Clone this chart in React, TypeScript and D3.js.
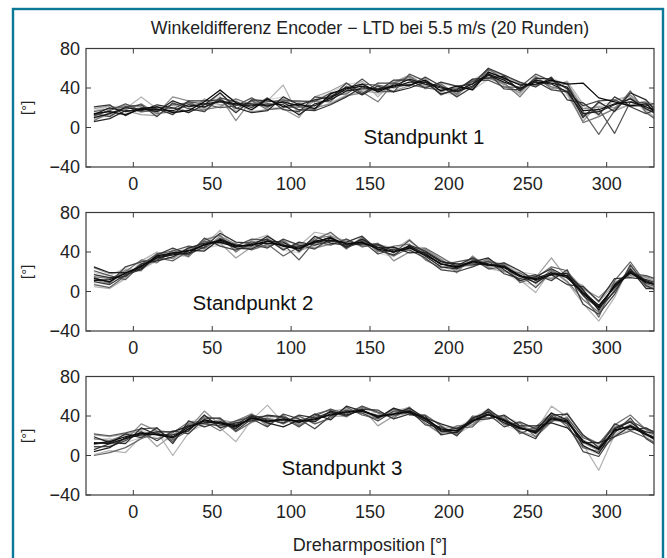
import * as d3 from "d3";

// Dreharmposition (deg) of each sample
const angles = [-25, -15, -5, 5, 15, 25, 35, 45, 55, 65, 75, 85, 95, 105, 115, 125, 135, 145, 155, 165, 175, 185, 195, 205, 215, 225, 235, 245, 255, 265, 275, 285, 295, 305, 315, 325, 335];

const xTicks = [0, 50, 100, 150, 200, 250, 300];
const yTicks = [-40, 0, 40, 80];

// Standpunkt 1 – 14 of the 20 runs
const runs1 = [
  [8, 12, 14, 22, 13, 21, 26, 18, 33, 28, 17, 28, 31, 15, 29, 35, 44, 46, 33, 47, 51, 49, 35, 33, 48, 58, 43, 35, 51, 41, 32, 8, 22, 27, 31, 15, 6],
  [17, 21, 22, 15, 20, 14, 18, 27, 22, 17, 27, 19, 21, 25, 19, 25, 33, 35, 43, 37, 43, 41, 45, 41, 38, 49, 51, 45, 43, 50, 43, 22, 12, 19, 23, 25, 17],
  [9, 13, 19, 31, 19, 23, 24, 19, 36, 16, 26, 27, 43, 12, 28, 33, 35, 47, 31, 46, 53, 39, 43, 32, 47, 57, 42, 33, 52, 41, 47, 24, 14, 28, 32, 17, 5],
  [19, 22, 17, 13, 12, 24, 15, 29, 23, 27, 16, 18, 19, 10, 31, 37, 45, 37, 35, 37, 42, 50, 36, 41, 39, 59, 52, 45, 42, 49, 34, 6, 25, 17, 23, 27, 19],
  [11, 18, 23, 21, 14, 31, 27, 16, 31, 7, 28, 20, 29, 17, 20, 24, 32, 35, 40, 44, 51, 41, 44, 33, 46, 50, 44, 35, 52, 39, 45, 19, 21, 20, 33, 18, 14],
  [7, 15, 18, 24, 14, 16, 17, 18, 21, 29, 23, 26, 28, 26, 27, 26, 42, 36, 26, 45, 52, 43, 44, 34, 47, 51, 45, 31, 49, 41, 37, 5, 11, 19, 30, 20, 17],
  [16, 19, 21, 16, 17, 23, 25, 20, 29, 19, 27, 18, 20, 21, 18, 32, 34, 44, 43, 40, 44, 40, 38, 40, 40, 59, 49, 44, 43, 47, 40, 16, -7, 17, 37, 15, 4],
  [12, 17, 24, 17, 21, 19, 26, 24, 20, 22, 30, 21, 27, 27, 26, 35, 37, 49, 37, 36, 54, 47, 33, 39, 47, 48, 41, 41, 54, 47, 45, 12, 19, -6, 26, 25, 16],
  [14, 11, 21, 23, 11, 25, 19, 16, 30, 26, 20, 30, 18, 16, 31, 29, 45, 34, 45, 45, 42, 51, 42, 31, 41, 55, 39, 38, 47, 38, 36, 22, 27, 28, 21, 14, 21],
  [21, 23, 12, 20, 19, 13, 27, 27, 28, 15, 28, 27, 25, 18, 17, 23, 31, 41, 37, 48, 48, 40, 46, 42, 44, 60, 53, 46, 41, 51, 28, 25, 13, 31, 22, 22, 27],
  [6, 9, 17, 17, 23, 20, 15, 23, 35, 20, 15, 17, 31, 23, 28, 31, 41, 33, 42, 36, 40, 46, 34, 38, 49, 50, 52, 37, 50, 49, 39, 10, 26, 16, 35, 28, 8],
  [13, 20, 16, 19, 16, 27, 21, 24, 26, 23, 22, 24, 23, 13, 24, 28, 37, 39, 39, 42, 49, 44, 40, 36, 42, 53, 46, 40, 46, 44, 36, 14, 16, 23, 29, 19, 11],
  [10, 14, 20, 18, 18, 17, 23, 21, 27, 24, 24, 22, 26, 22, 22, 30, 39, 42, 38, 41, 46, 46, 41, 37, 44, 54, 48, 39, 48, 45, 41, 17, 18, 24, 26, 21, 13],
  [14, 16, 13, 19, 21, 15, 17, 26, 38, 25, 18, 29, 21, 24, 19, 34, 40, 44, 36, 43, 43, 48, 37, 42, 38, 56, 50, 43, 44, 48, 44, 45, 30, 26, 22, 24, 9],
];

// Standpunkt 2
const runs2 = [
  [8, 4, 14, 29, 38, 43, 35, 53, 58, 41, 51, 55, 42, 39, 55, 59, 44, 55, 39, 35, 51, 33, 23, 19, 34, 24, 19, 10, 6, 23, 11, -8, -22, 1, 25, 6, 0],
  [19, 16, 24, 22, 31, 34, 44, 44, 47, 49, 43, 46, 51, 48, 45, 49, 52, 46, 48, 44, 41, 42, 33, 28, 27, 31, 28, 20, 17, 14, 19, 3, -9, 10, 16, 13, 9],
  [5, 3, 13, 31, 40, 36, 36, 47, 62, 42, 52, 57, 45, 46, 60, 57, 45, 53, 41, 42, 53, 36, 25, 21, 35, 23, 21, 12, -1, 22, 9, -12, -30, -6, 27, 7, 1],
  [24, 18, 21, 23, 32, 40, 43, 49, 49, 34, 45, 47, 49, 41, 47, 56, 51, 48, 47, 43, 43, 42, 31, 22, 32, 30, 27, 18, 14, 34, 13, 6, -11, 8, 18, 14, 7],
  [12, 8, 22, 21, 39, 33, 45, 43, 56, 48, 44, 54, 43, 49, 44, 48, 53, 45, 49, 31, 40, 43, 33, 19, 36, 24, 29, 11, 16, 13, 20, 3, -6, 9, 16, 15, 10],
  [15, 13, 20, 32, 29, 42, 35, 52, 57, 40, 51, 45, 52, 40, 54, 56, 43, 55, 40, 46, 48, 32, 24, 27, 26, 33, 20, 19, 8, 22, 10, -8, -21, 2, 24, 5, 0],
  [7, 4, 16, 24, 34, 31, 41, 51, 49, 48, 42, 48, 36, 45, 52, 60, 47, 52, 42, 36, 44, 44, 35, 25, 27, 30, 27, 9, 14, 25, 21, -3, -26, 11, 30, 8, 3],
  [21, 16, 12, 27, 38, 41, 46, 44, 54, 46, 53, 52, 48, 32, 51, 47, 53, 46, 47, 39, 52, 39, 27, 30, 33, 23, 25, 17, 4, 20, 16, 1, -15, 5, 18, 16, 11],
  [14, 9, 25, 30, 32, 39, 37, 54, 46, 42, 48, 44, 53, 47, 43, 54, 44, 51, 38, 43, 42, 34, 22, 20, 25, 31, 18, 13, 17, 11, 22, -13, -23, -3, 27, 6, -1],
  [10, 7, 17, 22, 37, 44, 38, 45, 59, 50, 49, 53, 42, 50, 47, 51, 50, 56, 42, 37, 47, 41, 31, 26, 34, 26, 29, 21, 11, 17, 7, 5, -10, 13, 14, 12, 7],
  [17, 14, 15, 28, 31, 35, 44, 49, 51, 44, 43, 51, 50, 41, 56, 49, 47, 48, 48, 41, 45, 36, 25, 23, 30, 34, 22, 11, 15, 23, 15, -4, -17, 0, 23, 3, 3],
  [25, 19, 19, 23, 35, 38, 42, 41, 53, 47, 46, 56, 46, 46, 49, 55, 45, 53, 44, 45, 39, 40, 30, 28, 28, 27, 26, 16, 9, 18, 18, 2, -19, 7, 21, 11, 5],
  [11, 12, 18, 26, 34, 37, 39, 48, 50, 45, 48, 49, 47, 44, 50, 52, 49, 49, 45, 40, 46, 38, 28, 24, 31, 28, 24, 15, 13, 19, 14, -1, -14, 4, 20, 10, 4],
  [13, 10, 19, 25, 36, 39, 41, 47, 52, 46, 47, 51, 46, 43, 51, 54, 48, 50, 43, 40, 44, 37, 28, 25, 30, 27, 25, 16, 12, 17, 16, -2, -16, 6, 19, 9, 6],
];

// Standpunkt 3
const runs3 = [
  [8, 10, 20, 26, 18, 15, 33, 40, 29, 33, 43, 31, 40, 32, 41, 47, 41, 50, 36, 46, 48, 32, 21, 28, 38, 47, 31, 24, 20, 43, 31, 8, 1, 28, 35, 18, 11],
  [16, 17, 13, 18, 27, 22, 24, 31, 35, 25, 33, 40, 32, 39, 32, 37, 48, 41, 44, 37, 42, 41, 31, 21, 31, 38, 39, 33, 28, 34, 39, 19, 10, 21, 26, 27, 20],
  [1, 5, 3, 19, 24, 0, 23, 37, 28, 14, 36, 51, 33, 39, 35, 45, 47, 43, 38, 44, 49, 35, 28, 29, 33, 39, 33, 30, 25, 50, 39, 11, -15, 21, 32, 20, 13],
  [21, 19, 22, 25, 9, 21, 31, 33, 36, 33, 41, 32, 40, 31, 39, 40, 40, 48, 30, 40, 43, 41, 24, 22, 39, 44, 38, 25, 19, 36, 33, 16, 7, 30, 27, 24, 17],
  [11, 14, 16, 32, 25, 17, 27, 45, 31, 28, 37, 37, 35, 36, 37, 43, 45, 44, 41, 43, 46, 36, 27, 26, 34, 41, 36, 29, 26, 39, 36, 13, 5, 24, 31, 21, 16],
  [17, 15, 21, 20, 17, 23, 34, 34, 25, 35, 42, 30, 41, 30, 42, 46, 39, 49, 43, 38, 49, 33, 22, 30, 31, 46, 31, 33, 19, 34, 43, 20, 12, 31, 41, 26, 20],
  [0, 3, 8, 17, 23, 16, 25, 39, 37, 24, 34, 38, 32, 40, 32, 38, 49, 41, 37, 47, 41, 41, 30, 20, 40, 38, 40, 22, 29, 43, 29, 8, 4, 19, 25, 18, 9],
  [22, 20, 23, 27, 28, 14, 32, 32, 30, 35, 39, 40, 38, 29, 40, 47, 42, 50, 44, 40, 46, 36, 24, 28, 29, 45, 37, 29, 22, 35, 38, 18, 12, 28, 35, 27, 22],
  [9, 9, 15, 24, 15, 25, 22, 37, 38, 25, 37, 29, 42, 37, 27, 40, 46, 43, 35, 45, 46, 31, 29, 20, 37, 42, 29, 34, 27, 40, 32, 4, -1, 23, 38, 17, 7],
  [6, 12, 22, 18, 28, 12, 35, 29, 34, 31, 41, 36, 33, 41, 38, 44, 40, 47, 46, 37, 42, 40, 21, 24, 34, 47, 35, 24, 17, 41, 42, 21, 8, 32, 26, 28, 19],
  [19, 13, 12, 28, 21, 21, 25, 41, 28, 33, 35, 41, 39, 33, 42, 36, 50, 45, 40, 42, 48, 38, 32, 27, 36, 37, 41, 30, 30, 33, 28, 13, 13, 19, 30, 24, 21],
  [4, 8, 18, 22, 24, 24, 30, 33, 34, 27, 40, 33, 29, 36, 34, 45, 41, 46, 38, 48, 43, 35, 25, 23, 38, 44, 33, 27, 25, 43, 36, 10, 2, 27, 34, 22, 11],
  [13, 12, 17, 21, 22, 19, 29, 35, 32, 29, 38, 35, 36, 35, 36, 42, 44, 45, 40, 42, 45, 38, 26, 25, 35, 42, 35, 28, 24, 38, 35, 15, 6, 25, 30, 22, 15],
  [12, 14, 19, 23, 21, 18, 27, 36, 33, 30, 38, 34, 37, 34, 37, 41, 44, 46, 39, 42, 44, 37, 27, 25, 35, 41, 36, 28, 23, 37, 34, 14, 7, 26, 29, 21, 14],
];

const runColors = ["#d8d8d8", "#c8c8c8", "#b4b4b4", "#a0a0a0", "#8c8c8c", "#787878", "#666666", "#545454", "#444444", "#363636", "#2a2a2a", "#1e1e1e", "#141414", "#0a0a0a"];

const panels = [
  { runs: runs1, label: "Standpunkt 1", lx: 424, ly: 144 },
  { runs: runs2, label: "Standpunkt 2", lx: 253, ly: 310 },
  { runs: runs3, label: "Standpunkt 3", lx: 342, ly: 475 },
];

const W = 667;
const H = 558;
const left = 86;
const right = 654;
const panelTops = [48.5, 212.5, 376.5];
const panelH = 118.5;
const font = "'Liberation Sans', Arial, sans-serif";
const axisColor = "#3a3a3a";

export default function App() {
  const x = d3.scaleLinear([-30, 330], [left, right]);

  return (
    <svg width={W} height={H} style={{ position: "absolute", left: 0, top: 0, background: "#fff" }} fontFamily={font}>
      <defs>
        {panelTops.map((t, i) => (
          <clipPath key={i} id={`clip${i}`}>
            <rect x={left} y={t} width={right - left} height={panelH} />
          </clipPath>
        ))}
      </defs>
      {/* outer frame */}
      <rect x={13} y={9} width={650} height={570} fill="none" stroke="#0a7896" strokeWidth={2.4} />

      <text x={(left + right) / 2} y={34} textAnchor="middle" fontSize={17.7} fill="#222">
        Winkeldifferenz Encoder − LTD bei 5.5 m/s (20 Runden)
      </text>

      {panels.map((p, pi) => {
        const top = panelTops[pi];
        const bottom = top + panelH;
        const y = d3.scaleLinear([-40, 80], [bottom, top]);
        const line = d3.line<number>((_, i) => x(angles[i]), (d) => y(d));
        return (
          <g key={pi}>
            <g clipPath={`url(#clip${pi})`} fill="none" strokeWidth={1.25} strokeLinejoin="round">
              {p.runs.map((r, ri) => (
                <path key={ri} d={line(r) ?? ""} stroke={runColors[ri % runColors.length]} />
              ))}
            </g>
            <rect x={left} y={top} width={right - left} height={panelH} fill="none" stroke={axisColor} strokeWidth={1.2} />
            {xTicks.map((t) => (
              <g key={t} stroke={axisColor} strokeWidth={1}>
                <line x1={x(t)} x2={x(t)} y1={top} y2={top + 5} />
                <line x1={x(t)} x2={x(t)} y1={bottom} y2={bottom - 5} />
              </g>
            ))}
            {yTicks.map((t) => (
              <g key={t} stroke={axisColor} strokeWidth={1}>
                <line x1={left} x2={left + 5} y1={y(t)} y2={y(t)} />
                <line x1={right} x2={right - 5} y1={y(t)} y2={y(t)} />
              </g>
            ))}
            {xTicks.map((t) => (
              <text key={t} x={x(t)} y={bottom + 23} textAnchor="middle" fontSize={18} fill="#222">
                {t}
              </text>
            ))}
            {yTicks.map((t) => (
              <text key={t} x={left - 6} y={y(t) + 6} textAnchor="end" fontSize={18} fill="#222">
                {t < 0 ? `−${-t}` : t}
              </text>
            ))}
            <text transform={`translate(32,${(top + bottom) / 2}) rotate(-90)`} textAnchor="middle" fontSize={15} fill="#222">
              [°]
            </text>
            <text x={p.lx} y={p.ly} textAnchor="middle" fontSize={20.5} fill="#111">
              {p.label}
            </text>
          </g>
        );
      })}

      <text x={(left + right) / 2} y={551} textAnchor="middle" fontSize={18} fill="#222">
        Dreharmposition [°]
      </text>
    </svg>
  );
}
